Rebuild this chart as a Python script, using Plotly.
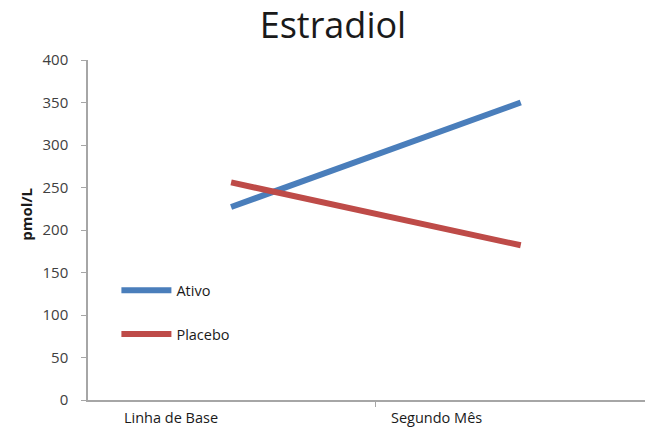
import plotly.graph_objects as go

categories = ["Linha de Base", "Segundo Mês"]
ativo = [227, 350]
placebo = [256, 182]
y_ticks = [0, 50, 100, 150, 200, 250, 300, 350, 400]
label_shift = [-60, -84]

fig = go.Figure()
fig.add_trace(go.Scatter(x=categories, y=ativo, mode="lines", name="Ativo",
                         legendgroup="a", line=dict(color="#4A7EBB", width=6)))
fig.add_trace(go.Scatter(x=categories, y=placebo, mode="lines", name="Placebo",
                         legendgroup="p", line=dict(color="#BE4B48", width=6)))

for cat, sh in zip(categories, label_shift):
    fig.add_annotation(x=cat, y=0, xref="x", yref="paper", yanchor="top",
                       xshift=sh, yshift=-6, showarrow=False, text=cat,
                       font=dict(size=14.5, color="#1a1a1a", family="Open Sans, sans-serif"))

fig.add_annotation(x=0, y=0.545, xref="paper", yref="paper", xanchor="center", yanchor="middle",
                   xshift=-62, text="<b>pmol/L</b>", textangle=-90, showarrow=False,
                   font=dict(size=15, color="#1a1a1a", family="Open Sans, sans-serif"))

fig.update_layout(
    width=649, height=429,
    margin=dict(l=88, r=4, t=60, b=29),
    paper_bgcolor="white", plot_bgcolor="white",
    font=dict(family="Open Sans, sans-serif", color="#404040", size=13),
    title=dict(text="Estradiol", x=0.513, xanchor="center", y=0.94, yanchor="middle",
               font=dict(size=36, color="#1a1a1a", family="Open Sans, sans-serif")),
    showlegend=True,
    legend=dict(x=0.051, y=0.37, xanchor="left", yanchor="top", bgcolor="rgba(0,0,0,0)",
                font=dict(size=14.5, color="#1a1a1a"), tracegroupgap=22, traceorder="grouped",
                itemwidth=50),
)
fig.update_xaxes(type="category", range=[-0.494, 1.429], showgrid=False, automargin=False,
                 showline=True, linecolor="#a6a6a6", linewidth=1.5,
                 ticks="outside", tickson="boundaries", ticklen=5, tickcolor="#a6a6a6",
                 showticklabels=False)
fig.update_yaxes(range=[0, 400], tickvals=y_ticks, showgrid=False, zeroline=False, automargin=False,
                 showline=True, linecolor="#a6a6a6", linewidth=1.5,
                 ticks="outside", ticklen=5, tickcolor="#a6a6a6", ticklabelstandoff=10,
                 tickfont=dict(size=15, color="#404040"))

fig.write_html("out.html", config={"displayModeBar": False},
               post_script="document.body.style.margin='0';")
